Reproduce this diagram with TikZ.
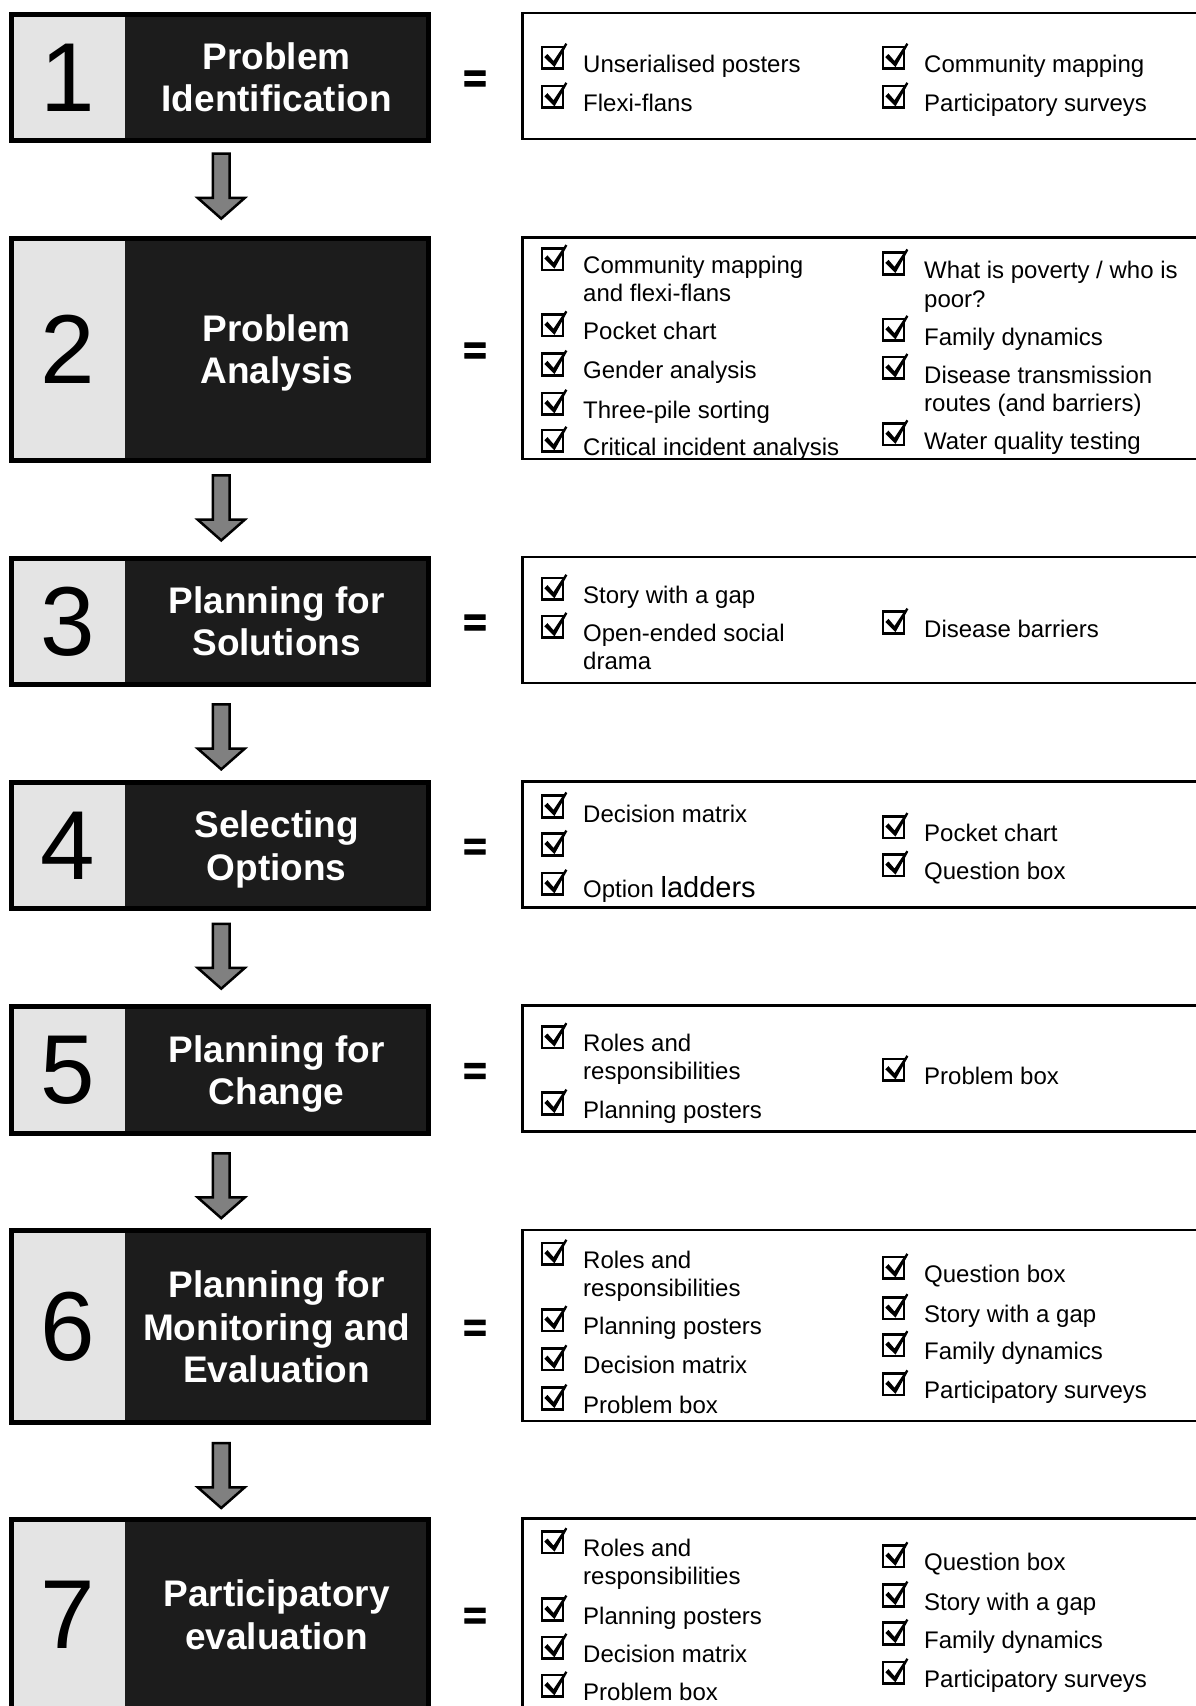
\documentclass[tikz,border=0pt]{standalone}
\usepackage{fontspec}
\setmainfont{Liberation Sans}
\newfontfamily\eqfont{Liberation Sans}[FakeBold=2.5]
\usetikzlibrary{positioning,fit,calc}

\definecolor{numgray}{HTML}{E4E4E4}
\definecolor{stepdark}{HTML}{1C1C1C}

\tikzset{
  numcell/.style={fill=numgray, minimum width=113.8pt, inner sep=0pt, text depth=0pt,
    font=\fontsize{98}{98}\selectfont},
  titlecell/.style={fill=stepdark, minimum width=302.5pt, inner sep=0pt, text depth=0pt,
    text=white, align=center, font=\fontsize{37}{42.4}\selectfont\bfseries},
  stepframe/.style={draw=black, line width=5pt, inner sep=0pt},
  listframe/.style={draw=black, line width=2.5pt, inner sep=0pt, minimum width=708pt},
  eqsign/.style={font=\eqfont\bfseries\fontsize{40}{40}\selectfont},
  tooltext/.style={anchor=north west, inner sep=0pt, align=left,
    font=\fontsize{24}{28.3}\selectfont},
  chk/.pic={
    \draw[line width=2.6pt] (-10.4,-10.8) rectangle (10.4,10.8);
    \fill (-8.2,-0.5) -- (-5,-3.6) -- (1,3.4) -- (13,-14.6) -- (14.8,-13.3) -- (2,9.6) -- cycle;
  },
  downarr/.pic={
    \draw[line width=2.5pt, fill=gray, line join=miter]
      (-8.45,-32.7) -- (-8.45,11.5) -- (-23.5,11.5) -- (0,32.2)
      -- (23.5,11.5) -- (8.45,11.5) -- (8.45,-32.7) -- cycle;
  }
}

\begin{document}
\begin{tikzpicture}[x=1pt, y=-1pt]
\useasboundingbox[fill=white] (0,0) rectangle (1196,1706);

% step boxes
\foreach \i/\c/\h/\ttl in {
  1/77.3/126/{Problem\\Identification},
  2/349.3/221.5/{Problem\\Analysis},
  3/621.3/126/{Planning for\\Solutions},
  4/845.5/126/{Selecting\\Options},
  5/1069.8/126/{Planning for\\Change},
  6/1326.6/191/{Planning for\\Monitoring and\\Evaluation},
  7/1614.5/190/{Participatory\\evaluation}}
{
  \node[numcell, minimum height=\h pt] (n\i) at (68.1,\c) {\i};
  \node[titlecell, minimum height=\h pt, right=0pt of n\i] (t\i) {\ttl};
  \node[stepframe, fit=(n\i)(t\i)] (s\i) {};
  \node[eqsign] (e\i) at (475,\c+4) {=};
}

% arrows between steps
\foreach \i/\dy in {1/-3, 2/-1, 3/3.7, 4/-1.2, 5/4, 6/5}
{
  \pgfmathtruncatemacro\j{\i+1}
  \pic at ($(s\i.south)!.5!(s\j.north)+(1.7,\dy)$) {downarr};
}

% step 1
\foreach \y/\txt [count=\k] in {63.1/{Unserialised posters}, 102.3/{Flexi-flans}}
  {\pic at (552.5,\y-5.5) {chk}; \node[tooltext] (p1a\k) at (583,\y-8.6) {\txt};}
\foreach \y/\txt [count=\k] in {63.1/{Community mapping}, 102.3/{Participatory surveys}}
  {\pic at (893.5,\y-5.5) {chk}; \node[tooltext] (p1b\k) at (924,\y-8.6) {\txt};}

% step 2
\foreach \y/\txt [count=\k] in {264.5/{Community mapping\\and flexi-flans}, 330.8/{Pocket chart},
    370/{Gender analysis}, 409.2/{Three-pile sorting}, 446.2/{Critical incident analysis}}
  {\pic at (552.5,\y-5.5) {chk}; \node[tooltext] (p2a\k) at (583,\y-8.6) {\txt};}
\foreach \y/\txt [count=\k] in {269.9/{What is poverty / who is\\poor?}, 336.3/{Family dynamics},
    374.4/{Disease transmission\\routes (and barriers)}, 440.8/{Water quality testing}}
  {\pic at (893.5,\y-6.5) {chk}; \node[tooltext] (p2b\k) at (924,\y-8.6) {\txt};}

% step 3
\foreach \y/\txt [count=\k] in {594.2/{Story with a gap}, 632.3/{Open-ended social\\drama}}
  {\pic at (552.5,\y-5.5) {chk}; \node[tooltext] (p3a\k) at (583,\y-8.6) {\txt};}
\pic at (893.5,622.5) {chk};
\node[tooltext] (p3b1) at (924,628-8.6) {Disease barriers};

% step 4
\pic at (552.5,806.4) {chk};
\node[tooltext] (p4a1) at (583,813-8.6) {Decision matrix};
\pic at (552.5,844.5) {chk};
\pic at (552.5,883.7) {chk};
\node[tooltext, anchor=base west] (p4a3) at (583,889+8.6) {Option {\fontsize{29}{30}\selectfont ladders}};
\foreach \y/\txt [count=\k] in {832.5/{Pocket chart}, 870.6/{Question box}}
  {\pic at (893.5,\y-5.5) {chk}; \node[tooltext] (p4b\k) at (924,\y-8.6) {\txt};}

% step 5
\foreach \y/\txt [count=\k] in {1042.6/{Roles and\\responsibilities}, 1109/{Planning posters}}
  {\pic at (552.5,\y-5.5) {chk}; \node[tooltext] (p5a\k) at (583,\y-8.6) {\txt};}
\pic at (893.5,1069.8) {chk};
\node[tooltext] (p5b1) at (924,1075.2-8.6) {Problem box};

% step 6
\foreach \y/\txt [count=\k] in {1259.2/{Roles and\\responsibilities}, 1325.5/{Planning posters},
    1364.7/{Decision matrix}, 1404/{Problem box}}
  {\pic at (552.5,\y-5.5) {chk}; \node[tooltext] (p6a\k) at (583,\y-8.6) {\txt};}
\foreach \y/\txt [count=\k] in {1273.3/{Question box}, 1313.6/{Story with a gap},
    1350.6/{Family dynamics}, 1389.8/{Participatory surveys}}
  {\pic at (893.5,\y-5.5) {chk}; \node[tooltext] (p6b\k) at (924,\y-8.6) {\txt};}

% step 7
\foreach \y/\txt [count=\k] in {1547.6/{Roles and\\responsibilities}, 1615/{Planning posters},
    1653.2/{Decision matrix}, 1691.2/{Problem box}}
  {\pic at (552.5,\y-5.5) {chk}; \node[tooltext] (p7a\k) at (583,\y-8.6) {\txt};}
\foreach \y/\txt [count=\k] in {1561.7/{Question box}, 1601/{Story with a gap},
    1639/{Family dynamics}, 1678.2/{Participatory surveys}}
  {\pic at (893.5,\y-5.5) {chk}; \node[tooltext] (p7b\k) at (924,\y-8.6) {\txt};}

% tool lists
\foreach \i/\c/\h in {1/77.3/126, 2/349.3/221.5, 3/621.3/126, 4/845.5/126,
    5/1069.8/126, 6/1326.6/191, 7/1614.5/190}
  \node[listframe, minimum height=\h pt] (l\i) at (876.3,\c-1.25) {};
\end{tikzpicture}
\end{document}
